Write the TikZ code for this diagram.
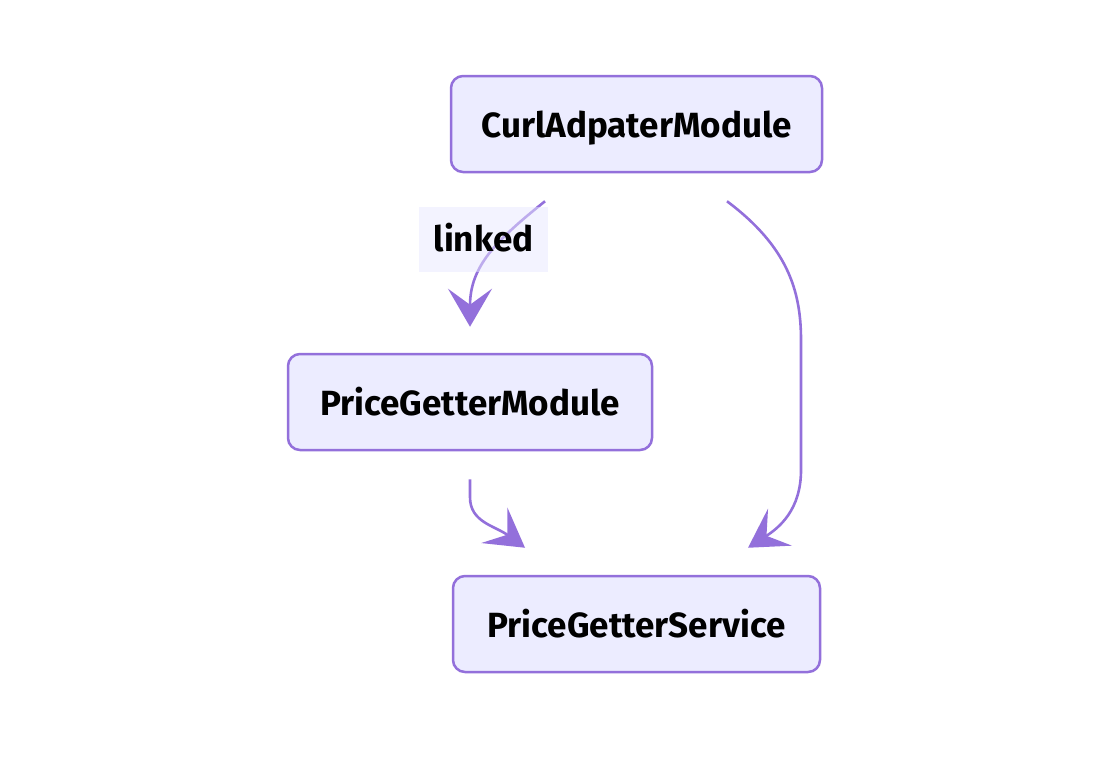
\documentclass[tikz,border=0pt]{standalone}
\usepackage{fontspec}
\setmainfont{Fira Sans}
\usetikzlibrary{arrows.meta}
\definecolor{edge}{HTML}{9370DB}
\definecolor{nodefill}{HTML}{ECECFF}
\definecolor{lblfill}{HTML}{E8E8FF}
\tikzset{
  box/.style={draw=edge, fill=nodefill, line width=2.5pt, rounded corners=12pt,
    minimum height=96pt, inner sep=0pt, text height=30pt, text depth=4pt,
    font=\fontsize{35}{40}\selectfont\bfseries},
  conn/.style={draw=edge, line width=2.6pt,
    -{Stealth[length=38pt, width=44pt, inset=16pt]}},
  lbl/.style={fill=lblfill, fill opacity=0.5, text opacity=1, inner sep=0pt,
    text height=30pt, text depth=6pt,
    minimum width=129pt, minimum height=65pt, font=\fontsize{35}{40}\selectfont\bfseries}
}
\begin{document}
\begin{tikzpicture}[x=1pt, y=-1pt]
\useasboundingbox (0,0) rectangle (1116,758);
\node[box, minimum width=371pt] (cam) at (636.5,124) {CurlAdpaterModule};
\node[box, minimum width=364pt] (pgm) at (470,402) {PriceGetterModule};
\node[box, minimum width=367pt] (pgs) at (636.5,624) {PriceGetterService};
\coordinate (s1) at ([xshift=-91.5pt, yshift=-28pt]cam.south);
\coordinate (t1) at ([yshift=26pt]pgm.north);
\coordinate (s2) at ([yshift=-28pt]pgm.south);
\coordinate (t2) at ([xshift=-111.5pt, yshift=27pt]pgs.north);
\coordinate (s3) at ([xshift=90.5pt, yshift=-28pt]cam.south);
\coordinate (t3) at ([xshift=111.5pt, yshift=27pt]pgs.north);
\draw[conn] (s1) .. controls +(-50,40) and +(0,-60) .. (t1);
\draw[conn] (s2) -- +(0,18) .. controls +(0,25) and +(-30,-22) .. (t2);
\draw[conn] (s3) .. controls +(60,45) and +(0,-50) .. ([xshift=74pt]s3 |- 0,340) -- ([xshift=74pt]s3 |- 0,470) .. controls +(0,40) and +(31,-20) .. (t3);
\node[lbl] (l1) at (483.5,239.5) {linked};
\end{tikzpicture}
\end{document}
